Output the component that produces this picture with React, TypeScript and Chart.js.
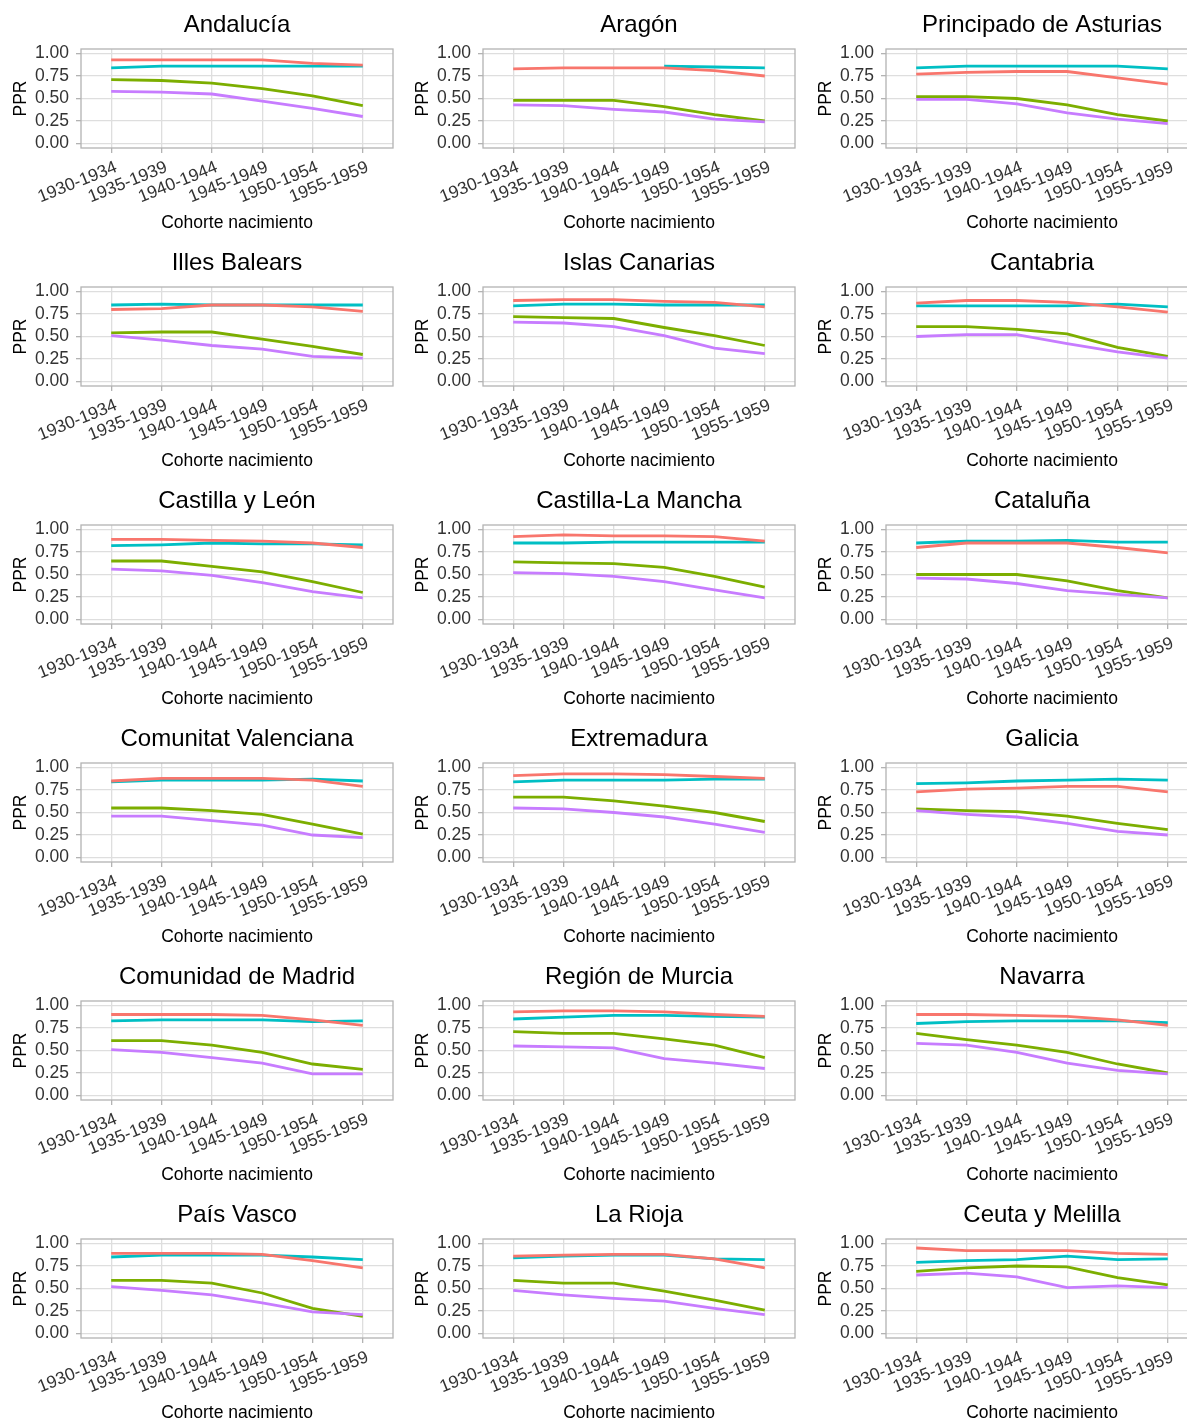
import React, { useEffect, useRef } from 'react';
import { Chart, registerables } from 'chart.js';

Chart.register(...registerables);

const cohorts = ['1930-1934', '1935-1939', '1940-1944', '1945-1949', '1950-1954', '1955-1959'];

const regions = [
  'Andalucía', 'Aragón', 'Principado de Asturias',
  'Illes Balears', 'Islas Canarias', 'Cantabria',
  'Castilla y León', 'Castilla-La Mancha', 'Cataluña',
  'Comunitat Valenciana', 'Extremadura', 'Galicia',
  'Comunidad de Madrid', 'Región de Murcia', 'Navarra',
  'País Vasco', 'La Rioja', 'Ceuta y Melilla',
];

const yTicks = [0, 0.25, 0.5, 0.75, 1];

// red series (#F8766D)
const seriesRed: (number | null)[][] = [
  [0.93, 0.93, 0.93, 0.93, 0.89, 0.87],
  [0.83, 0.84, 0.84, 0.84, 0.81, 0.75],
  [0.77, 0.79, 0.80, 0.80, 0.73, 0.66],
  [0.80, 0.81, 0.85, 0.85, 0.83, 0.78],
  [0.90, 0.91, 0.91, 0.89, 0.88, 0.83],
  [0.87, 0.90, 0.90, 0.88, 0.83, 0.77],
  [0.89, 0.89, 0.88, 0.87, 0.85, 0.80],
  [0.92, 0.94, 0.93, 0.93, 0.92, 0.87],
  [0.80, 0.85, 0.85, 0.85, 0.80, 0.74],
  [0.85, 0.88, 0.88, 0.88, 0.86, 0.79],
  [0.91, 0.93, 0.93, 0.92, 0.90, 0.88],
  [0.73, 0.76, 0.77, 0.79, 0.79, 0.73],
  [0.90, 0.90, 0.90, 0.89, 0.84, 0.78],
  [0.93, 0.94, 0.94, 0.93, 0.90, 0.88],
  [0.90, 0.90, 0.89, 0.88, 0.84, 0.78],
  [0.89, 0.89, 0.89, 0.88, 0.81, 0.73],
  [0.86, 0.87, 0.88, 0.88, 0.83, 0.73],
  [0.95, 0.92, 0.92, 0.92, 0.89, 0.88],
];

// green series (#7CAE00)
const seriesGreen: (number | null)[][] = [
  [0.71, 0.70, 0.67, 0.61, 0.53, 0.42],
  [0.48, 0.48, 0.48, 0.41, 0.32, 0.25],
  [0.52, 0.52, 0.50, 0.43, 0.32, 0.25],
  [0.54, 0.55, 0.55, 0.47, 0.39, 0.30],
  [0.72, 0.71, 0.70, 0.60, 0.51, 0.40],
  [0.61, 0.61, 0.58, 0.53, 0.38, 0.28],
  [0.65, 0.65, 0.59, 0.53, 0.42, 0.30],
  [0.64, 0.63, 0.62, 0.58, 0.48, 0.36],
  [0.50, 0.50, 0.50, 0.43, 0.32, 0.24],
  [0.55, 0.55, 0.52, 0.48, 0.37, 0.26],
  [0.67, 0.67, 0.63, 0.57, 0.50, 0.40],
  [0.54, 0.52, 0.51, 0.46, 0.38, 0.31],
  [0.61, 0.61, 0.56, 0.48, 0.35, 0.29],
  [0.71, 0.69, 0.69, 0.63, 0.56, 0.42],
  [0.69, 0.62, 0.56, 0.48, 0.35, 0.25],
  [0.59, 0.59, 0.56, 0.45, 0.28, 0.19],
  [0.59, 0.56, 0.56, 0.47, 0.37, 0.26],
  [0.69, 0.73, 0.75, 0.74, 0.62, 0.54],
];

// cyan series (#00BFC4)
const seriesCyan: (number | null)[][] = [
  [0.84, 0.86, 0.86, 0.86, 0.86, 0.86],
  [null, null, null, 0.86, 0.85, 0.84],
  [0.84, 0.86, 0.86, 0.86, 0.86, 0.83],
  [0.85, 0.86, 0.85, 0.85, 0.85, 0.85],
  [0.84, 0.86, 0.86, 0.85, 0.85, 0.85],
  [0.84, 0.84, 0.84, 0.84, 0.86, 0.83],
  [0.82, 0.83, 0.85, 0.84, 0.84, 0.83],
  [0.85, 0.85, 0.86, 0.86, 0.86, 0.86],
  [0.85, 0.87, 0.87, 0.88, 0.86, 0.86],
  [0.84, 0.86, 0.86, 0.86, 0.87, 0.85],
  [0.84, 0.86, 0.86, 0.86, 0.87, 0.87],
  [0.82, 0.83, 0.85, 0.86, 0.87, 0.86],
  [0.83, 0.84, 0.84, 0.84, 0.82, 0.83],
  [0.85, 0.87, 0.89, 0.89, 0.88, 0.87],
  [0.80, 0.82, 0.83, 0.83, 0.83, 0.81],
  [0.85, 0.87, 0.87, 0.87, 0.85, 0.82],
  [0.84, 0.86, 0.87, 0.87, 0.83, 0.82],
  [0.79, 0.81, 0.82, 0.86, 0.82, 0.83],
];

// purple series (#C77CFF)
const seriesPurple: (number | null)[][] = [
  [0.58, 0.57, 0.55, 0.47, 0.39, 0.30],
  [0.43, 0.42, 0.38, 0.35, 0.27, 0.24],
  [0.49, 0.49, 0.44, 0.34, 0.27, 0.22],
  [0.51, 0.46, 0.40, 0.36, 0.28, 0.26],
  [0.66, 0.65, 0.61, 0.51, 0.37, 0.31],
  [0.50, 0.52, 0.52, 0.42, 0.33, 0.26],
  [0.56, 0.54, 0.49, 0.41, 0.31, 0.24],
  [0.52, 0.51, 0.48, 0.42, 0.33, 0.24],
  [0.46, 0.45, 0.40, 0.32, 0.28, 0.24],
  [0.46, 0.46, 0.41, 0.36, 0.25, 0.22],
  [0.55, 0.54, 0.50, 0.45, 0.37, 0.28],
  [0.52, 0.48, 0.45, 0.38, 0.29, 0.25],
  [0.51, 0.48, 0.42, 0.36, 0.24, 0.24],
  [0.55, 0.54, 0.53, 0.41, 0.36, 0.30],
  [0.58, 0.56, 0.48, 0.36, 0.28, 0.24],
  [0.52, 0.48, 0.43, 0.34, 0.24, 0.21],
  [0.48, 0.43, 0.39, 0.36, 0.28, 0.21],
  [0.65, 0.67, 0.63, 0.51, 0.53, 0.51],
];

const FONT = "'Liberation Sans', Arial, Helvetica, sans-serif";
const COL_LEFT = [0, 402, 805];
const ROW_STEP = 238;
const Y_AXIS_W = 81;
const PLOT_W = 312;
const CANVAS_W = Y_AXIS_W * 2 + PLOT_W;
const CANVAS_H = 238;
const X_AXIS_H = 90;

const panelBorder = {
  id: 'panelBorder',
  afterDatasetsDraw(chart: any) {
    const { ctx, chartArea: a } = chart;
    ctx.save();
    ctx.strokeStyle = '#b3b3b3';
    ctx.lineWidth = 1.3;
    ctx.strokeRect(a.left, a.top, a.right - a.left, a.bottom - a.top);
    ctx.restore();
  },
};

function Panel({ index }: { index: number }) {
  const ref = useRef<HTMLCanvasElement | null>(null);

  useEffect(() => {
    if (!ref.current) return;
    const toPts = (arr: (number | null)[]) => arr.map((v, i) => ({ x: i, y: v }));
    const line = (label: string, data: (number | null)[], color: string, order: number) => ({
      label,
      data: toPts(data),
      borderColor: color,
      backgroundColor: color,
      borderWidth: 2.8,
      pointRadius: 0,
      tension: 0,
      spanGaps: false,
      order,
    });
    const tickFont = { family: FONT, size: 17.5 };
    const chart = new Chart(ref.current, {
      type: 'line',
      data: {
        datasets: [
          line('Serie 1', seriesRed[index], '#F8766D', 0),
          line('Serie 2', seriesGreen[index], '#7CAE00', 2),
          line('Serie 3', seriesCyan[index], '#00BFC4', 3),
          line('Serie 4', seriesPurple[index], '#C77CFF', 1),
        ],
      },
      options: {
        responsive: false,
        animation: false,
        layout: { padding: 0 },
        plugins: {
          legend: { display: false },
          tooltip: { enabled: false },
          title: {
            display: true,
            text: regions[index],
            color: '#000',
            font: { family: FONT, size: 24, weight: 'normal' },
            padding: { top: 11, bottom: 9.2 },
          },
        },
        scales: {
          x: {
            type: 'linear',
            min: -0.6,
            max: 5.6,
            afterBuildTicks: (s: any) => {
              s.ticks = cohorts.map((_, i) => ({ value: i }));
            },
            afterFit: (s: any) => {
              s.height = X_AXIS_H;
            },
            ticks: {
              autoSkip: false,
              minRotation: 22,
              maxRotation: 22,
              padding: 4,
              labelOffset: 5,
              color: '#333',
              font: tickFont,
              callback: (v: any) => cohorts[Math.round(v)] ?? '',
            },
            grid: {
              color: '#dedede',
              lineWidth: 1.3,
              tickColor: '#b3b3b3',
              tickWidth: 1.3,
              tickLength: 5,
            },
            border: { display: false },
            title: {
              display: true,
              text: 'Cohorte nacimiento',
              color: '#000',
              font: { family: FONT, size: 17.5 },
              padding: { top: 0, bottom: 4.5 },
            },
          },
          y: {
            type: 'linear',
            position: 'left',
            min: -0.05,
            max: 1.05,
            afterBuildTicks: (s: any) => {
              s.ticks = yTicks.map((v) => ({ value: v }));
            },
            afterFit: (s: any) => {
              s.width = Y_AXIS_W;
            },
            ticks: {
              padding: 7,
              color: '#333',
              font: tickFont,
              callback: (v: any) => Number(v).toFixed(2),
            },
            grid: {
              color: '#dedede',
              lineWidth: 1.3,
              tickColor: '#b3b3b3',
              tickWidth: 1.3,
              tickLength: 5,
            },
            border: { display: false },
            title: {
              display: true,
              text: 'PPR',
              color: '#000',
              font: { family: FONT, size: 17.5 },
              padding: { top: 11, bottom: 0 },
            },
          },
          y2: {
            type: 'linear',
            position: 'right',
            display: true,
            afterFit: (s: any) => {
              s.width = Y_AXIS_W;
            },
            ticks: { display: false },
            grid: { display: false, drawTicks: false },
            border: { display: false },
          },
        },
      } as any,
      plugins: [panelBorder],
    });
    return () => chart.destroy();
  }, [index]);

  const col = index % 3;
  const row = Math.floor(index / 3);
  return (
    <canvas
      ref={ref}
      width={CANVAS_W}
      height={CANVAS_H}
      style={{
        position: 'absolute',
        left: COL_LEFT[col],
        top: row * ROW_STEP,
        width: CANVAS_W,
        height: CANVAS_H,
      }}
    />
  );
}

export default function App() {
  return (
    <div
      style={{
        position: 'absolute',
        left: 0,
        top: 0,
        width: 1187,
        height: 1420,
        overflow: 'hidden',
        background: '#fff',
      }}
    >
      {regions.map((_, i) => (
        <Panel key={i} index={i} />
      ))}
    </div>
  );
}
